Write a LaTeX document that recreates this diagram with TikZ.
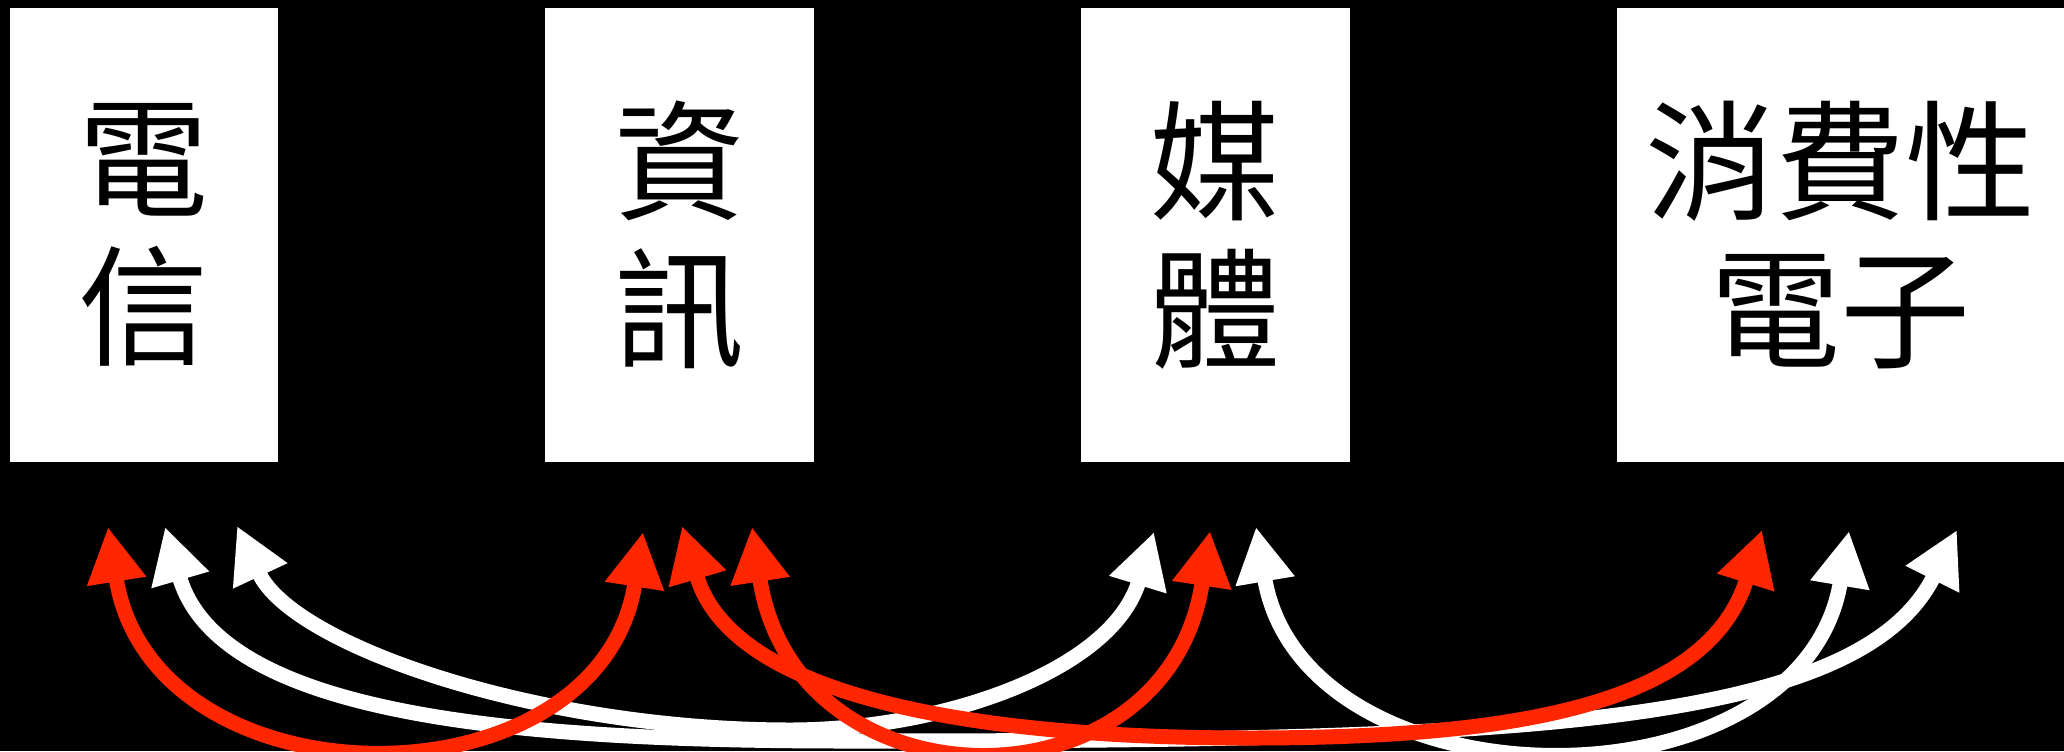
\documentclass[tikz,border=0pt]{standalone}
\usepackage{fontspec}
\newfontfamily\cjk{Noto Sans CJK TC}
\usetikzlibrary{arrows.meta}
\definecolor{arrred}{RGB}{255,38,0}
\begin{document}
\begin{tikzpicture}[x=0.01cm,y=-0.01cm,
  box/.style={fill=white, draw=none, inner sep=0pt, minimum width=2.68cm, minimum height=4.54cm,
    align=center, text=black, font=\fontsize{37pt}{42.1pt}\selectfont\cjk},
  link/.style={line width=0.15cm, {Triangle[length=0.55cm,width=0.56cm]}-{Triangle[length=0.55cm,width=0.56cm]}},
  wlink/.style={link, draw=white},
  rlink/.style={link, draw=arrred}]
\fill[black] (0,0) rectangle (2064,751);
\useasboundingbox (0,0) rectangle (2064,751);
% boxes
\node[box] (b1) at (144,235) {電\\信};
\node[box] (b2) at (679.5,235) {資\\訊};
\node[box] (b3) at (1215.5,235) {媒\\體};
\node[box, minimum width=4.47cm] (b4) at (1840.5,235) {消費性\\電子};
% arrow ends
\coordinate (b1r2) at (108,527);
\coordinate (b1w4) at (165,527);
\coordinate (b1w3) at (237,526);
\coordinate (b2r1) at (643,532);
\coordinate (b2r4) at (682,526);
\coordinate (b2r3) at (752,527);
\coordinate (b3w1) at (1154,532);
\coordinate (b3r2) at (1210,531);
\coordinate (b3w4) at (1256,527);
\coordinate (b4r2) at (1762,530);
\coordinate (b4w3) at (1849,531);
\coordinate (b4w1) at (1957,530);
% white links
\draw[wlink] (b1w3) .. controls (293,646) and (540,730) .. (790,730)
  .. controls (940,730) and (1111,672) .. (b3w1);
\draw[wlink] (b1w4) .. controls (220,717) and (520,741) .. (850,741)
  .. controls (1500,741) and (1857,730) .. (b4w1);
\draw[wlink] (b3w4) .. controls (1304,812) and (1801,816) .. (b4w3);
% red links
\draw[rlink] (b1r2) .. controls (153,810) and (599,812) .. (b2r1);
\draw[rlink] (b2r3) .. controls (795,812) and (1167,816) .. (b3r2);
\draw[rlink] (b2r4) .. controls (732,696) and (970,738) .. (1250,738)
  .. controls (1530,738) and (1709,700) .. (b4r2);
\end{tikzpicture}
\end{document}
